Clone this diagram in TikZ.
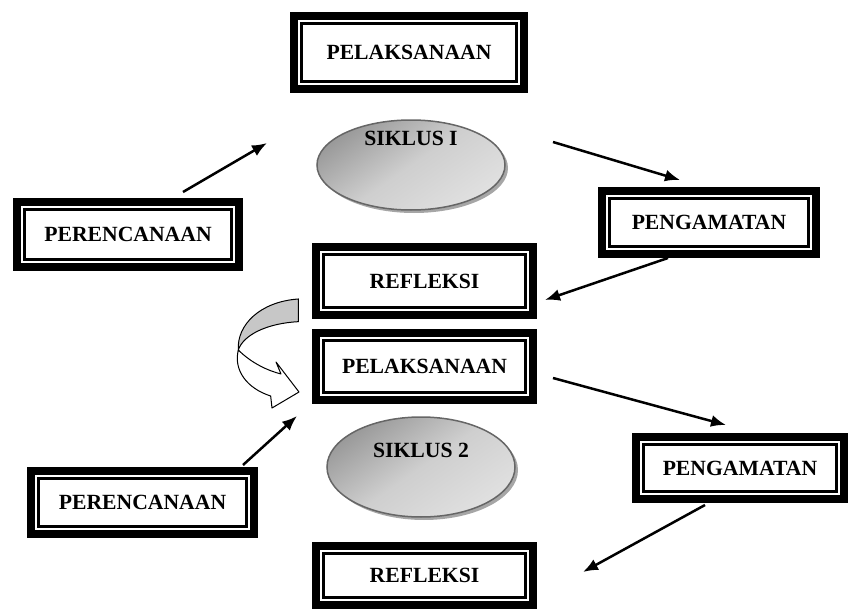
\documentclass[tikz,border=0pt]{standalone}
\usepackage{fontspec}
\setmainfont{Liberation Serif}
\usepackage{tikz}
\usetikzlibrary{arrows.meta, shapes.geometric, shadows}
\tikzset{dblframe/.style={rectangle, draw, line width = 0.24cm, inner sep = 0pt,
font=\fontsize{18.5}{20}\selectfont\bfseries,
path picture={
  \draw[line width = 0.075cm]
([shift={(0.22cm,-0.22cm)}]path picture bounding box.north west) rectangle ([shift={(-0.22cm,0.22cm)}]path picture bounding box.south east);
}}}
\tikzset{siklus/.style={ellipse, draw = black!60, line width = 0.045cm,
top color = black!40, bottom color = black!12, middle color = black!19, shading angle = 35,
drop shadow = {shadow xshift = 0.09cm, shadow yshift = -0.09cm, fill = black!35, opacity = 1}}}
\tikzset{siklustext/.style={font=\fontsize{18.5}{20}\selectfont\bfseries}}
\tikzset{flow/.style={-{Latex[length = 0.45cm, width = 0.36cm]}, line width = 0.075cm}}

\begin{document}
\begin{tikzpicture}[
]
\useasboundingbox (0,0) rectangle (25.59,-18.33);

% siklus I
\node[dblframe,
minimum width = 6.9cm,
minimum height = 2.19cm] (pel1) at (12.27,-1.575) {PELAKSANAAN};

\node[dblframe,
minimum width = 6.66cm,
minimum height = 1.95cm] (per1) at (3.84,-7.035) {PERENCANAAN};

\node[dblframe,
minimum width = 6.42cm,
minimum height = 1.89cm] (pen1) at (21.27,-6.675) {PENGAMATAN};

\node[dblframe,
minimum width = 6.51cm,
minimum height = 2.04cm] (ref1) at (12.735,-8.43) {REFLEKSI};

\node[siklus,
minimum width = 5.64cm,
minimum height = 2.7cm] (sik1) at (12.33,-4.95) {};
\node[siklustext] (t1) at ([yshift=0.81cm]sik1.center) {SIKLUS I};

% siklus 2
\node[dblframe,
minimum width = 6.51cm,
minimum height = 2.01cm] (pel2) at (12.735,-10.995) {PELAKSANAAN};

\node[dblframe,
minimum width = 6.24cm,
minimum height = 1.86cm] (pen2) at (22.2,-14.04) {PENGAMATAN};

\node[dblframe,
minimum width = 6.69cm,
minimum height = 1.89cm] (per2) at (4.275,-15.075) {PERENCANAAN};

\node[dblframe,
minimum width = 6.51cm,
minimum height = 1.77cm] (ref2) at (12.735,-17.265) {REFLEKSI};

\node[siklus,
minimum width = 5.64cm,
minimum height = 3cm] (sik2) at (12.63,-14.01) {};
\node[siklustext] (t2) at ([yshift=0.51cm]sik2.center) {SIKLUS 2};

% arrow ends
\coordinate (a1s) at (5.49,-5.76);
\coordinate (a1e) at (8.01,-4.29);
\coordinate (a2s) at (16.59,-4.26);
\coordinate (a2e) at (20.4,-5.4);
\coordinate (a3s) at (20.04,-7.74);
\coordinate (a3e) at (16.35,-9.0);
\coordinate (a4s) at (7.29,-13.95);
\coordinate (a4e) at (8.91,-12.48);
\coordinate (a5s) at (16.59,-11.34);
\coordinate (a5e) at (21.78,-12.75);
\coordinate (a6s) at (21.15,-15.15);
\coordinate (a6e) at (17.49,-17.16);

\draw [flow] (a1s) -- (a1e);
\draw [flow] (a2s) -- (a2e);
\draw [flow] (a3s) -- (a3e);
\draw [flow] (a4s) -- (a4e);
\draw [flow] (a5s) -- (a5e);
\draw [flow] (a6s) -- (a6e);

% curved arrow from siklus I to siklus 2
\draw [fill = black!22, line width = 0.03cm] (8.95,-8.97) .. controls (7.8,-9.05) and (7.1,-9.75) .. (7.15,-10.5)
.. controls (7.3,-10.05) and (8.0,-9.7) .. (8.95,-9.65) -- cycle;
\draw [fill = white, line width = 0.03cm, line join = round] (7.15,-10.5) .. controls (7.55,-10.9) and (8.04,-11.12) .. (8.43,-11.22)
-- (8.28,-10.86) -- (8.97,-11.76) -- (8.16,-12.24) -- (8.12,-11.88)
.. controls (7.4,-11.65) and (7.0,-11.1) .. (7.15,-10.5) -- cycle;

\end{tikzpicture}
\end{document}
